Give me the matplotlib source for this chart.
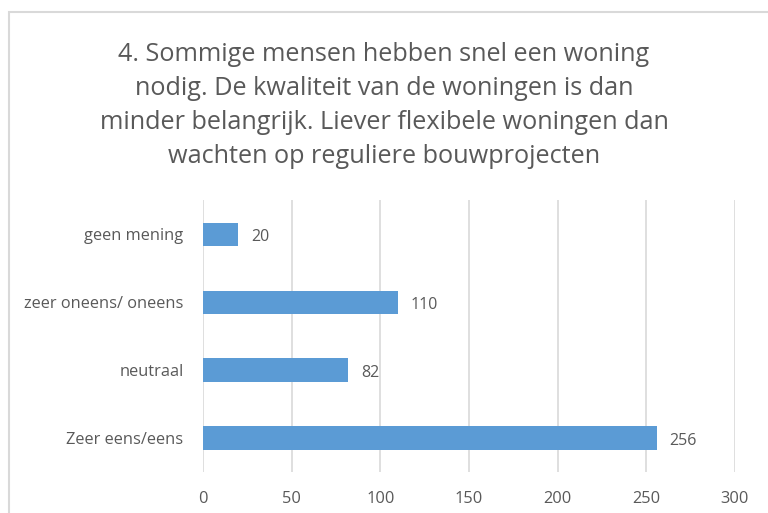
import matplotlib
matplotlib.use("Agg")
import matplotlib.pyplot as plt
from matplotlib.patches import Rectangle

plt.rcParams['font.family'] = ['Open Sans', 'DejaVu Sans']

categories = ['Zeer eens/eens', 'neutraal', 'zeer oneens/ oneens', 'geen mening']
counts = [256, 82, 110, 20]
xticks = [0, 50, 100, 150, 200, 250, 300]
title = ('4. Sommige mensen hebben snel een woning\n'
         'nodig. De kwaliteit van de woningen is dan\n'
         'minder belangrijk. Liever flexibele woningen dan\n'
         'wachten op reguliere bouwprojecten')

txt = '#595959'
grid = '#d9d9d9'
bar_col = '#5b9bd5'

fig = plt.figure(figsize=(7.68, 5.13), dpi=100)
ax = fig.add_axes([0.2643, 0.0799, 0.6927, 0.530])

ypos = list(range(len(categories)))
ax.barh(ypos, counts, height=0.34, color=bar_col, zorder=3)
for y, v in zip(ypos, counts):
    ax.text(v + 7, y - 0.04, str(v), va='center', ha='left', fontsize=11.5, color=txt)

ax.set_xlim(0, 300)
ax.set_ylim(-0.5, len(categories) - 0.5)
ax.set_xticks(xticks)
ax.set_yticks(ypos)
ax.set_yticklabels(categories)
ax.tick_params(axis='x', length=0, pad=14, labelsize=11.8, colors=txt)
ax.tick_params(axis='y', length=0, pad=14, labelsize=11.8, colors=txt)
ax.grid(axis='x', color=grid, linewidth=1.2, zorder=0)
for s in ax.spines.values():
    s.set_visible(False)

fig.text(0.5, 0.918, title, ha='center', va='top', fontsize=18.2, color=txt,
         linespacing=1.47)

# light border round the chart area
fig.patches.append(Rectangle((8.5 / 768, -0.05), 1.2, 1 - 12 / 513 + 0.05,
                             transform=fig.transFigure, fill=False,
                             edgecolor=grid, linewidth=1.5))

fig.savefig('out.png', dpi=100)
